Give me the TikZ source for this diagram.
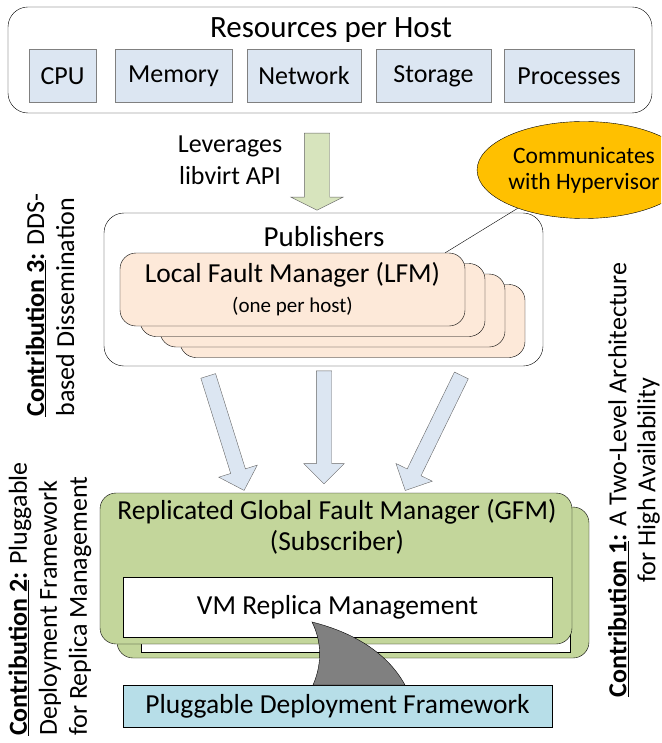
\documentclass[tikz,border=0pt]{standalone}
\usepackage{fontspec}
\setmainfont{Carlito}
\usetikzlibrary{shapes.geometric, shapes.arrows}
\definecolor{resblue}{HTML}{DCE6F2}
\definecolor{apigreen}{HTML}{D7E4BD}
\definecolor{lfmpeach}{HTML}{FDE9D9}
\definecolor{gfmgreen}{HTML}{C3D69B}
\definecolor{plugblue}{HTML}{B7DEE8}
\definecolor{commgold}{HTML}{FFC000}
\tikzset{
    resbox/.style={draw=black!50, fill=resblue, minimum height=53pt, inner sep=0pt, font=\fontsize{26}{31}\selectfont}, % one resource of a host
    lfmbox/.style={draw, fill=lfmpeach, rounded corners=16pt, minimum width=345pt, minimum height=73pt}, % local fault manager
    gfmbox/.style={draw, fill=gfmgreen, rounded corners=16pt, minimum width=472pt, minimum height=151pt}, % global fault manager
    fatarrow/.style={draw=black!60, fill=resblue, single arrow, inner xsep=0pt, inner ysep=7.5pt,
        single arrow head extend=12.5pt, single arrow tip angle=90, minimum height=#1}, % publish arrows
    sidenote/.style={rotate=90, inner sep=0pt, font=\fontsize{26}{30}\selectfont} % rotated contribution texts
}

\begin{document}
\begin{tikzpicture}[x=1pt, y=-1pt, font=\fontsize{27.5}{31}\selectfont]
    \clip (0,0) rectangle (661,743);

    % resources per host
    \draw[rounded corners=20pt] (8,7) rectangle (652,113);
    \node[font=\fontsize{31}{34}\selectfont] (restitle) at (331,30) {Resources per Host};
    \foreach \name/\cx/\w/\txt in {cpu/62.5/67/CPU, mem/173.5/117/Memory, net/304/114/Network,
        sto/433.5/115/Storage, proc/569/130/Processes}
        \node[resbox, minimum width=\w pt] (res-\name) at (\cx,76) {\txt};

    % libvirt
    \node[align=center, font=\fontsize{26}{32}\selectfont] (libvirt) at (230,160) {Leverages\\libvirt API};
    \node[fatarrow=77pt, fill=apigreen, inner ysep=12.5pt, single arrow head extend=13.5pt,
        single arrow tip angle=127, rotate=-90] (apiarrow) at (317,168.5) {};

    % publishers
    \draw[rounded corners=20pt] (104,213) rectangle (543,366);
    \node[font=\fontsize{29}{32}\selectfont] (pubtitle) at (324,237) {Publishers};
    \foreach \i in {3,2,1}
        \node[lfmbox] (lfm\i) at (292.5+20*\i,289.5+10.5*\i) {};
    \node[lfmbox, align=center] (lfm) at (292.5,289.5)
        {Local Fault Manager (LFM)\\[-1pt]{\fontsize{21}{24}\selectfont (one per host)}};

    \node[ellipse, draw, fill=commgold, minimum width=172pt, minimum height=97pt, inner sep=0pt,
        align=center, font=\fontsize{23.5}{26}\selectfont] (comm) at (584,170) {Communicates\\with Hypervisor};
    \draw (comm.210) -- ([xshift=-20pt]lfm.north east);

    % publish to subscriber
    \node[fatarrow=120pt, rotate=-72.6] (pubarrow1) at (225,429.5) {};
    \node[fatarrow=113pt, rotate=-90] (pubarrow2) at (324,423.5) {};
    \node[fatarrow=128pt, rotate=-116] (pubarrow3) at (435,429.5) {};

    % global fault manager
    \node[gfmbox] (gfm2) at (353,582.5) {};
    \node[draw, fill=white, minimum width=429pt, minimum height=60pt] (vm2) at (355.5,622) {};
    \node[gfmbox] (gfm) at (336,568.5) {};
    \node[align=center] (gfmtxt) at (337,527) {Replicated Global Fault Manager (GFM)\\(Subscriber)};
    \node[draw, fill=white, minimum width=429pt, minimum height=60pt] (vm) at (337.5,607) {VM Replica Management};

    \node[draw, fill=plugblue, minimum width=429pt, minimum height=42pt] (plug) at (337.5,706) {Pluggable Deployment Framework};
    \filldraw[fill=black!50] (312,622) .. controls (352,632) and (387,652) .. (405,685)
        -- (313,685) .. controls (323,662) and (321,640) .. cycle;

    % contributions
    \node[sidenote, align=left] (contrib3) at (50,305)
        {\underline{\textbf{Contribution 3}}\textbf{:} DDS-\\based Dissemination};
    \node[sidenote, align=left] (contrib2) at (50,599)
        {\underline{\textbf{Contribution 2}}\textbf{:} Pluggable\\Deployment Framework\\for Replica Management};
    \node[sidenote, align=center, font=\fontsize{26}{29}\selectfont] (contrib1) at (634,480)
        {\underline{\textbf{Contribution 1}}\textbf{:} A Two-Level Architecture\\for High Availability};
\end{tikzpicture}
\end{document}
